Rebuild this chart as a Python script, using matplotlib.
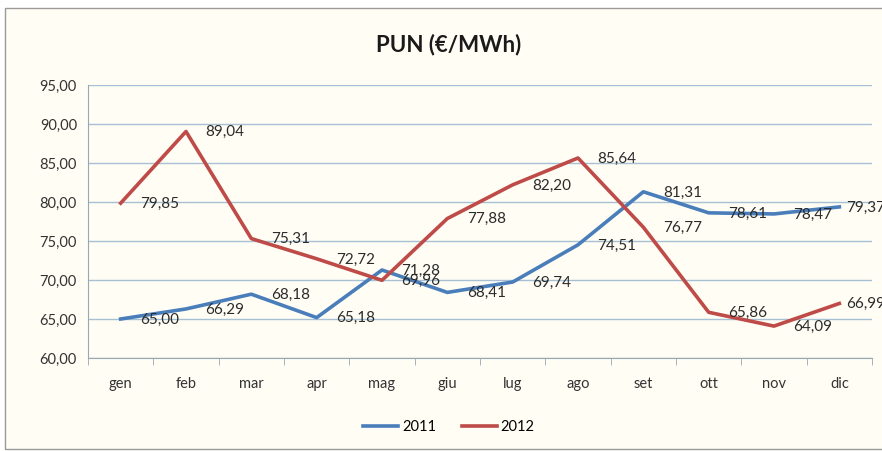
import matplotlib.pyplot as plt
from matplotlib.patches import Rectangle
import numpy as np

months = ["gen", "feb", "mar", "apr", "mag", "giu", "lug", "ago", "set", "ott", "nov", "dic"]
pun_2011 = [65.00, 66.29, 68.18, 65.18, 71.28, 68.41, 69.74, 74.51, 81.31, 78.61, 78.47, 79.37]
pun_2012 = [79.85, 89.04, 75.31, 72.72, 69.96, 77.88, 82.20, 85.64, 76.77, 65.86, 64.09, 66.99]
y_ticks = [60, 65, 70, 75, 80, 85, 90, 95]

# label offset in points; the last month's labels sit closer to the point
label_offset = 14
last_offset = 5

plt.rcParams["font.family"] = ["Lato", "DejaVu Sans"]

bg = "#fffdf4"
fig = plt.figure(figsize=(8.82, 4.51), dpi=100)
fig.patch.set_facecolor("white")
fig.patches.append(
    Rectangle((5 / 882, 0.005), 1.2, 1 - 8 / 451 - 0.005, transform=fig.transFigure,
              facecolor=bg, edgecolor="#9a9a9a", linewidth=1.0, zorder=-5)
)

ax = fig.add_axes([88 / 882, 1 - 358 / 451, (872 - 88) / 882, (358 - 85) / 451])
ax.set_facecolor(bg)
ax.set_zorder(1)

x = np.arange(len(months))
ax.plot(x, pun_2011, color="#4a7ebb", linewidth=2.6, label="2011", zorder=3,
        solid_joinstyle="round")
ax.plot(x, pun_2012, color="#be4b48", linewidth=2.6, label="2012", zorder=3,
        solid_joinstyle="round")


def fmt(v):
    return f"{v:.2f}".replace(".", ",")


for series in (pun_2011, pun_2012):
    for i, v in enumerate(series):
        dx = last_offset if i == len(series) - 1 else label_offset
        ax.annotate(fmt(v), (x[i], v), xytext=(dx, -0.5), textcoords="offset points",
                    ha="left", va="center", fontsize=11, color="#2b2b2b", zorder=4,
                    annotation_clip=False)

ax.set_xlim(-0.5, 11.5)
ax.set_ylim(60, 95)
ax.set_yticks(y_ticks)
ax.set_yticklabels([fmt(t) for t in y_ticks], fontsize=10.5, color="#333333")
ax.set_xticks(x)
ax.set_xticklabels(months, fontsize=10.5, color="#333333")
ax.tick_params(axis="x", length=0, pad=14)
ax.tick_params(axis="y", length=0, pad=8)

# category boundary tick marks below the axis
ax.set_xticks(np.arange(-0.5, 12, 1), minor=True)
ax.tick_params(axis="x", which="minor", length=5, color="#9aa8b4", direction="out")

ax.grid(axis="y", color="#a8c0d4", linewidth=1.0)
ax.set_axisbelow(True)
for side in ["top", "right"]:
    ax.spines[side].set_visible(False)
ax.spines["left"].set_color("#9aa8b4")
ax.spines["bottom"].set_color("#9aa8b4")

fig.text(449 / 882, 1 - 45 / 451, "PUN (€/MWh)", ha="center", va="center",
         fontsize=16, fontweight="bold", color="#1a1a1a")

fig.legend(loc="center", bbox_to_anchor=(449 / 882, 1 - 427 / 451), ncol=2,
           frameon=False, fontsize=10.5, handlelength=2.4, columnspacing=1.8,
           handletextpad=0.25)

fig.savefig("out.png", dpi=100, facecolor=fig.get_facecolor())
